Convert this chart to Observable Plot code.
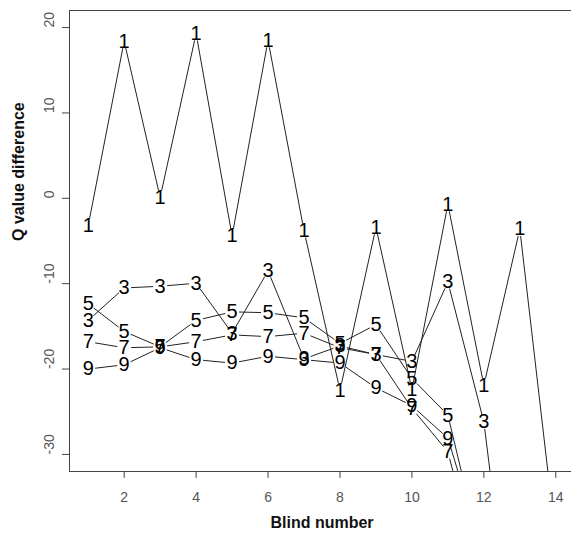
<!DOCTYPE html>
<html>
<head>
<meta charset="utf-8">
<script src="https://cdn.jsdelivr.net/npm/d3@7"></script>
<script src="https://cdn.jsdelivr.net/npm/@observablehq/plot@0.6"></script>
<style>
html, body { margin: 0; padding: 0; background: white; overflow: hidden; }
</style>
</head>
<body>
<div id="chart"></div>
<script>
// Blind numbers (x)
const blinds = [1, 2, 3, 4, 5, 6, 7, 8, 9, 10, 11, 12, 13, 14];
// Series labels
const seriesNames = ["1", "3", "5", "7", "9"];
// Q value differences per series (values below -32 run off the plot)
const q1 = [-3.2, 18.4, 0.1, 19.3, -4.4, 18.5, -3.8, -22.5, -3.4, -22.4, -0.7, -21.9, -3.6, -40];
const q3 = [-14.3, -10.5, -10.3, -9.95, -15.8, -8.5, -18.8, -17.3, -18.3, -19.1, -9.8, -26.2, -60];
const q5 = [-12.35, -15.6, -17.4, -14.3, -13.3, -13.4, -14.0, -17.0, -14.8, -21.1, -25.4, -43];
const q7 = [-16.8, -17.5, -17.4, -16.8, -16.0, -16.2, -15.8, -17.5, -18.3, -24.6, -29.7, -46];
const q9 = [-20.0, -19.5, -17.5, -18.9, -19.3, -18.5, -18.9, -19.3, -22.2, -24.3, -28.1, -42];
// Axis ticks
const xTicks = [2, 4, 6, 8, 10, 12, 14];
const yTicks = [-30, -20, -10, 0, 10, 20];
const yDomain = [-32, 22];

const allSeries = [q1, q3, q5, q7, q9];
const pts = [];
const segs = [];
allSeries.forEach((vals, i) => {
  vals.forEach((v, j) => {
    pts.push({x: blinds[j], y: v, s: seriesNames[i]});
    if (j > 0) segs.push({x1: blinds[j - 1], y1: vals[j - 1], x2: blinds[j], y2: v});
  });
});
// points that fall outside the plotting region are not drawn (as in the original)
const visiblePts = pts.filter(d => d.y >= yDomain[0] && d.y <= yDomain[1]);

const font = "'Liberation Sans', Arial, Helvetica, sans-serif";

const chart = Plot.plot({
  width: 571,
  height: 535,
  marginLeft: 69,
  marginRight: -3,
  marginTop: 10,
  marginBottom: 64,
  x: {domain: [0.48, 14.52], axis: null},
  y: {domain: yDomain, axis: null},
  style: {fontFamily: font, background: "white", overflow: "visible"},
  marks: [
    Plot.arrow(segs, {
      x1: "x1", y1: "y1", x2: "x2", y2: "y2",
      insetStart: 7, insetEnd: 7, headLength: 0,
      stroke: "#222", strokeWidth: 1, strokeLinecap: "butt", clip: true
    }),
    Plot.text(visiblePts, {x: "x", y: "y", text: "s", fontSize: 20, fill: "black"}),
    Plot.frame({stroke: "#444", strokeWidth: 1}),
    Plot.axisX({ticks: xTicks, tickSize: 7, tickPadding: 14, fontSize: 14, stroke: "#444", fill: "#555", label: null}),
    Plot.axisY({ticks: yTicks, tickSize: 7, tickFormat: () => "", stroke: "#444", label: null}),
    Plot.text(yTicks, {y: d => d, frameAnchor: "left", dx: -20, rotate: -90, text: d => String(d), fontSize: 14, fill: "#555"}),
    Plot.text(["Blind number"], {frameAnchor: "bottom", dy: 56, fontSize: 16, fontWeight: "bold", fill: "#111"}),
    Plot.text(["Q value difference"], {frameAnchor: "left", dx: -51, rotate: -90, fontSize: 16, fontWeight: "bold", fill: "#111"})
  ]
});
document.getElementById("chart").appendChild(chart);
</script>
</body>
</html>
